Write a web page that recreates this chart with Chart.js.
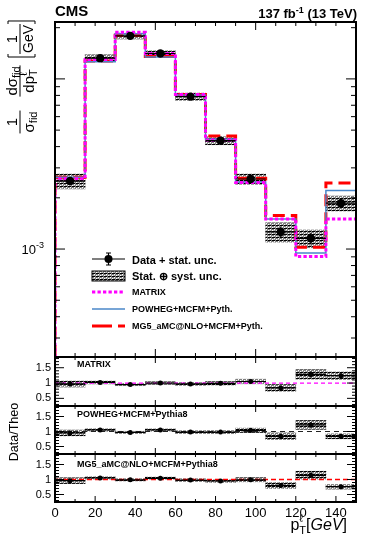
<!DOCTYPE html>
<html>
<head>
<meta charset="utf-8">
<script src="https://cdn.jsdelivr.net/npm/chart.js@4.4.1/dist/chart.umd.min.js"></script>
<style>
html,body{margin:0;padding:0;background:#ffffff;overflow:hidden;}
canvas{display:block;}
</style>
</head>
<body>
<canvas id="chart" width="374" height="542"></canvas>
<script>
// ---------------- data ----------------
const binEdges   = [0, 15, 30, 45, 60, 75, 90, 105, 120, 135, 150];
const binCenters = [7.5, 22.5, 37.5, 52.5, 67.5, 82.5, 97.5, 112.5, 127.5, 142.5];
const dataValues = [2.51e-3, 1.324e-2, 1.79e-2, 1.41e-2, 7.87e-3, 4.34e-3, 2.58e-3, 1.26e-3, 1.156e-3, 1.86e-3];
const statUnc    = [0.04, 0.02, 0.015, 0.02, 0.025, 0.03, 0.04, 0.07, 0.08, 0.06];   // relative
const totUnc     = [0.10, 0.045, 0.04, 0.04, 0.05, 0.055, 0.07, 0.13, 0.12, 0.10];   // relative stat (+) syst
const matrixValues = [2.59e-3, 1.30e-2, 1.88e-2, 1.41e-2, 8.11e-3, 4.38e-3, 2.46e-3, 1.50e-3, 9.03e-4, 1.50e-3];
const powhegValues = [2.64e-3, 1.26e-2, 1.845e-2, 1.343e-2, 8.03e-3, 4.43e-3, 2.48e-3, 1.50e-3, 9.48e-4, 2.21e-3];
const mg5Values    = [2.64e-3, 1.273e-2, 1.808e-2, 1.356e-2, 8.11e-3, 4.62e-3, 2.606e-3, 1.575e-3, 1.023e-3, 2.447e-3];
const ratioMatrix = [0.97, 1.02, 0.95, 1.00, 0.97, 0.99, 1.05, 0.84, 1.28, 1.24];
const ratioPowheg = [0.95, 1.05, 0.97, 1.05, 0.98, 0.98, 1.04, 0.84, 1.22, 0.84];
const ratioMg5    = [0.96, 1.05, 0.99, 1.04, 0.98, 0.95, 0.99, 0.80, 1.14, 0.76];
const xTickLabels = [0, 20, 40, 60, 80, 100, 120, 140];
const ratioTickLabels = [0.5, 1, 1.5];
const mainTickLabels = [1e-3];
const xRange = [0, 150];
const yRange = [2.32e-4, 2.16e-2];
const ratioRange = [0.25, 1.85];
const unity = 1;

// ---------------- helpers ----------------
const FONT = '"Liberation Sans", Arial, Helvetica, sans-serif';
const F = (size, style) => `${style || ''} ${size}px ${FONT}`;
const canvas = document.getElementById('chart');
const mainCtx = canvas.getContext('2d');

function makeHatch() {
  const t = document.createElement('canvas');
  t.width = 4; t.height = 3;
  const g = t.getContext('2d');
  g.fillStyle = '#ffffff'; g.fillRect(0, 0, 4, 3);
  g.fillStyle = '#000000'; g.fillRect(0, 0, 3, 1);
  g.fillStyle = '#808080'; g.fillRect(0, 1, 2, 1); g.fillRect(3, 0, 1, 3);
  g.fillStyle = '#b0b0b0'; g.fillRect(1, 2, 2, 1);
  return mainCtx.createPattern(t, 'repeat');
}
const hatch = makeHatch();

function histPoints(vals) {
  const pts = [{x: binEdges[0], y: yRange[0]}];
  vals.forEach((v, i) => pts.push({x: binEdges[i], y: v}));
  pts.push({x: binEdges[binEdges.length - 1], y: vals[vals.length - 1]});
  return pts;
}
function pointData(vals) { return binCenters.map((x, i) => ({x, y: vals[i]})); }
function bandData(vals, unc) {
  return binCenters.map((x, i) => ({x, y: [vals[i] * (1 - unc[i]), vals[i] * (1 + unc[i])]}));
}
function unityData() { return [{x: xRange[0], y: unity}, {x: xRange[1], y: unity}]; }

function bandDS(axis, vals) {
  return {type: 'bar', yAxisID: axis, data: bandData(vals, totUnc), backgroundColor: hatch,
          borderWidth: 0, grouped: false, barPercentage: 1, categoryPercentage: 1, order: 10};
}
function pointsDS(axis, vals, r) {
  return {type: 'line', yAxisID: axis, data: pointData(vals), showLine: false, pointRadius: r,
          pointBackgroundColor: '#000', pointBorderColor: '#000', pointBorderWidth: 0, order: 0,
          statUnc: statUnc};
}
function histDS(vals, color, width, dash, order) {
  return {type: 'line', yAxisID: 'y', data: histPoints(vals), stepped: 'before', borderColor: color,
          borderWidth: width, borderDash: dash, pointRadius: 0, fill: false, order: order,
          borderCapStyle: 'butt', borderJoinStyle: 'miter'};
}
function unityDS(axis, color, width, dash) {
  return {type: 'line', yAxisID: axis, data: unityData(), borderColor: color, borderWidth: width,
          borderDash: dash, pointRadius: 0, fill: false, order: 5};
}

// ---------------- plugins ----------------
const errorBars = {
  id: 'errorBars',
  afterDatasetsDraw(chart) {
    const ctx = chart.ctx, xs = chart.scales.x;
    chart.data.datasets.forEach(ds => {
      if (!ds.statUnc) return;
      const ys = chart.scales[ds.yAxisID];
      ctx.save();
      ctx.strokeStyle = '#000'; ctx.lineWidth = 1.2;
      ds.data.forEach((p, i) => {
        const y = ys.getPixelForValue(p.y);
        const xc = xs.getPixelForValue(p.x);
        ctx.beginPath();
        ctx.moveTo(xs.getPixelForValue(binEdges[i]), y);
        ctx.lineTo(xs.getPixelForValue(binEdges[i + 1]), y);
        ctx.moveTo(xc, ys.getPixelForValue(p.y * (1 - ds.statUnc[i])));
        ctx.lineTo(xc, ys.getPixelForValue(p.y * (1 + ds.statUnc[i])));
        ctx.stroke();
      });
      ctx.restore();
    });
  }
};

const panelDefs = [
  {id: 'y',  log: true, xMajor: 50, xMin: 4, xMaj: 8, yMin: 5, yMaj: 10},
  {id: 'r1', xMajor: 50, xMin: 3, xMaj: 6, yMin: 4, yMaj: 9},
  {id: 'r2', xMajor: 50, xMin: 3, xMaj: 6, yMin: 4, yMaj: 9},
  {id: 'r3', xMajor: 20, xMin: 3, xMaj: 6, yMin: 4, yMaj: 9}
];

function runsWidth(ctx, runs) {
  let w = 0;
  runs.forEach(r => {
    ctx.font = r.font;
    if (r.sub !== undefined) w += Math.max(ctx.measureText(r.sub).width, ctx.measureText(r.sup).width);
    else w += ctx.measureText(r.t).width;
    w += (r.gap || 0);
  });
  return w;
}
function drawRuns(ctx, x, y, runs) {
  runs.forEach(r => {
    ctx.font = r.font;
    if (r.sub !== undefined) {
      ctx.fillText(r.sub, x, y + (r.subDy || 3));
      ctx.fillText(r.sup, x, y + (r.supDy || -6));
      x += Math.max(ctx.measureText(r.sub).width, ctx.measureText(r.sup).width);
    } else {
      ctx.fillText(r.t, x, y + (r.dy || 0));
      x += ctx.measureText(r.t).width;
    }
    x += (r.gap || 0);
  });
  return x;
}
function fraction(ctx, cu, num, den, nb, db) {
  const wn = runsWidth(ctx, num), wd = runsWidth(ctx, den), w = Math.max(wn, wd);
  drawRuns(ctx, cu - wn / 2, nb, num);
  drawRuns(ctx, cu - wd / 2, db, den);
  ctx.beginPath(); ctx.lineWidth = 1;
  ctx.moveTo(cu - w / 2 - 1, 0); ctx.lineTo(cu + w / 2 + 1, 0); ctx.stroke();
  return w;
}

const decorations = {
  id: 'decorations',
  afterDraw(chart) {
    const ctx = chart.ctx, xs = chart.scales.x, ca = chart.chartArea;
    ctx.save();
    ctx.strokeStyle = '#000'; ctx.fillStyle = '#000';
    // ---- frames and inward ticks ----
    panelDefs.forEach(p => {
      const s = chart.scales[p.id];
      const top = s.top, bot = s.bottom, L = ca.left, R = ca.right;
      ctx.lineWidth = 1;
      ctx.beginPath();
      for (let v = xRange[0] + 10; v < xRange[1]; v += 10) {
        const x = xs.getPixelForValue(v);
        const len = (v % p.xMajor === 0) ? p.xMaj : p.xMin;
        ctx.moveTo(x, top); ctx.lineTo(x, top + len);
        ctx.moveTo(x, bot); ctx.lineTo(x, bot - len);
      }
      if (p.log) {
        for (let e = -4; e <= -1; e++) {
          for (let m = 1; m <= 9; m++) {
            const v = m * Math.pow(10, e);
            if (v <= yRange[0] || v >= yRange[1]) continue;
            const y = s.getPixelForValue(v);
            const len = m === 1 ? p.yMaj : p.yMin;
            ctx.moveTo(L, y); ctx.lineTo(L + len, y);
            ctx.moveTo(R, y); ctx.lineTo(R - len, y);
          }
        }
      } else {
        for (let k = 3; k <= 18; k++) {
          const v = k / 10;
          const y = s.getPixelForValue(v);
          const len = (k % 5 === 0) ? p.yMaj : p.yMin;
          ctx.moveTo(L, y); ctx.lineTo(L + len, y);
          ctx.moveTo(R, y); ctx.lineTo(R - len, y);
        }
      }
      ctx.stroke();
      ctx.lineWidth = 2;
      ctx.strokeRect(L, top, R - L, bot - top);
    });

    // ---- main y tick label 10^-3 ----
    const ys = chart.scales.y;
    mainTickLabels.forEach(v => {
      const y = ys.getPixelForValue(v);
      const exp = String(Math.round(Math.log10(v)));
      ctx.textAlign = 'right'; ctx.textBaseline = 'alphabetic';
      ctx.font = F(9);
      const we = ctx.measureText(exp).width;
      ctx.fillText(exp, 44, y - 1);
      ctx.font = F(13);
      ctx.fillText('10', 44 - we, y + 4.5);
    });

    ctx.textAlign = 'left'; ctx.textBaseline = 'alphabetic';
    // ---- header ----
    ctx.font = F(15, 'bold');
    ctx.fillText('CMS', 55, 16);
    const lumi = [{t: '137 fb', font: F(13, 'bold')}, {t: '-1', font: F(9, 'bold'), dy: -5},
                  {t: ' (13 TeV)', font: F(13, 'bold')}];
    drawRuns(ctx, 357 - runsWidth(ctx, lumi), 18, lumi);

    // ---- main y-axis title (rotated) ----
    ctx.save();
    ctx.translate(20, 145); ctx.rotate(-Math.PI / 2);
    ctx.lineWidth = 1;
    fraction(ctx, 23, [{t: '1', font: F(15)}],
             [{t: 'σ', font: F(15)}, {t: 'fid', font: F(11), dy: 3}], -3, 14);
    fraction(ctx, 64, [{t: 'dσ', font: F(15)}, {t: 'fid', font: F(11), dy: 3}],
             [{t: 'dp', font: F(15)}, {sub: 'T', sup: 'ℓ', font: F(11), subDy: 3, supDy: -7}], -3, 14);
    ctx.font = F(14);
    const wg = ctx.measureText('GeV').width;
    const bc = 106, bl = bc - wg / 2 - 4, br = bc + wg / 2 + 4;
    fraction(ctx, bc, [{t: '1', font: F(14)}], [{t: 'GeV', font: F(14)}], -3, 13);
    ctx.beginPath(); ctx.lineWidth = 1;
    ctx.moveTo(bl + 3, -12); ctx.lineTo(bl, -12); ctx.lineTo(bl, 15); ctx.lineTo(bl + 3, 15);
    ctx.moveTo(br - 3, -12); ctx.lineTo(br, -12); ctx.lineTo(br, 15); ctx.lineTo(br - 3, 15);
    ctx.stroke();
    ctx.restore();

    // ---- ratio y-axis title ----
    ctx.save();
    ctx.translate(15, 432); ctx.rotate(-Math.PI / 2);
    ctx.textAlign = 'center'; ctx.textBaseline = 'middle';
    ctx.font = F(12.5);
    ctx.fillText('Data/Theo', 0, 0);
    ctx.restore();

    // ---- x-axis title ----
    const xt = [{t: 'p', font: F(16)}, {sub: 'T', sup: 'ℓ', font: F(11), subDy: 4, supDy: -8},
                {t: '[', font: F(16)}, {t: 'GeV', font: F(16, 'italic')}, {t: ']', font: F(16)}];
    drawRuns(ctx, 347 - runsWidth(ctx, xt), 530, xt);

    // ---- ratio panel labels ----
    ctx.font = F(9, 'bold');
    ctx.fillText('MATRIX', 77, chart.scales.r1.top + 10);
    ctx.fillText('POWHEG+MCFM+Pythia8', 77, chart.scales.r2.top + 11);
    ctx.fillText('MG5_aMC@NLO+MCFM+Pythia8', 77, chart.scales.r3.top + 13);

    // ---- legend ----
    const lx0 = 92, lx1 = 125, tx = 132;
    ctx.lineWidth = 1.2; ctx.setLineDash([]);
    ctx.beginPath();
    ctx.moveTo(lx0, 259); ctx.lineTo(lx1, 259);
    ctx.moveTo(108.5, 253); ctx.lineTo(108.5, 265);
    ctx.moveTo(106, 253); ctx.lineTo(111, 253);
    ctx.moveTo(106, 265); ctx.lineTo(111, 265);
    ctx.stroke();
    ctx.beginPath(); ctx.arc(108.5, 259, 4, 0, Math.PI * 2); ctx.fill();
    ctx.font = F(11, 'bold');
    ctx.fillText('Data + stat. unc.', tx, 263.5);
    ctx.fillStyle = hatch; ctx.fillRect(lx0, 271, lx1 - lx0, 10);
    ctx.fillStyle = '#000'; ctx.lineWidth = 1; ctx.strokeRect(lx0, 271, lx1 - lx0, 10);
    ctx.fillText('Stat. \u2295 syst. unc.', tx, 279.5);
    ctx.font = F(9, 'bold');
    ctx.strokeStyle = '#ff00ff'; ctx.lineWidth = 3; ctx.setLineDash([3.3, 2.2]);
    ctx.beginPath(); ctx.moveTo(lx0, 292); ctx.lineTo(lx1, 292); ctx.stroke();
    ctx.fillText('MATRIX', tx, 295);
    ctx.strokeStyle = '#4a87c8'; ctx.lineWidth = 1.5; ctx.setLineDash([]);
    ctx.beginPath(); ctx.moveTo(lx0, 309); ctx.lineTo(lx1, 309); ctx.stroke();
    ctx.fillText('POWHEG+MCFM+Pyth.', tx, 312);
    ctx.strokeStyle = '#ff0000'; ctx.lineWidth = 3; ctx.setLineDash([20, 6]);
    ctx.beginPath(); ctx.moveTo(lx0, 326); ctx.lineTo(lx1, 326); ctx.stroke();
    ctx.setLineDash([]);
    ctx.fillText('MG5_aMC@NLO+MCFM+Pyth.', tx, 329);
    ctx.restore();
  }
};

// ---------------- chart ----------------
const ratioAxis = (weight, stackWeight) => ({
  type: 'linear', position: 'left', stack: 'panels', stackWeight: stackWeight, weight: weight,
  min: ratioRange[0], max: ratioRange[1],
  grid: {display: false, drawTicks: false}, border: {display: false},
  ticks: {font: {family: FONT, size: 11}, color: '#000', padding: 4, autoSkip: false,
          callback: v => String(v)},
  afterBuildTicks: s => { s.ticks = ratioTickLabels.map(v => ({value: v})); },
  afterFit: s => { s.width = 55; }
});

new Chart(mainCtx, {
  type: 'line',
  data: {
    datasets: [
      pointsDS('y', dataValues, 4.2),
      histDS(matrixValues, '#ff00ff', 3, [3.3, 2.2], 1),
      histDS(powhegValues, '#4a87c8', 1.5, [], 2),
      histDS(mg5Values, '#ff0000', 3, [12, 6], 3),
      bandDS('y', dataValues),

      pointsDS('r1', ratioMatrix, 2.5),
      unityDS('r1', '#ff00ff', 1.2, [4, 3]),
      bandDS('r1', ratioMatrix),

      pointsDS('r2', ratioPowheg, 2.5),
      unityDS('r2', '#222222', 1.2, [5, 4]),
      bandDS('r2', ratioPowheg),

      pointsDS('r3', ratioMg5, 2.5),
      unityDS('r3', '#ff0000', 1.3, [5, 3]),
      bandDS('r3', ratioMg5)
    ]
  },
  options: {
    responsive: false,
    devicePixelRatio: 1,
    animation: false,
    events: [],
    layout: {padding: {top: 22, left: 0, right: 18, bottom: 0}},
    plugins: {legend: {display: false}, tooltip: {enabled: false}},
    scales: {
      x: {
        type: 'linear', position: 'bottom', min: xRange[0], max: xRange[1], offset: false,
        grid: {display: false, drawTicks: false}, border: {display: false},
        ticks: {font: {family: FONT, size: 13}, color: '#000', padding: 4, maxRotation: 0,
                autoSkip: false, includeBounds: false},
        afterBuildTicks: s => { s.ticks = xTickLabels.map(v => ({value: v})); },
        afterFit: s => { s.height = 40; }
      },
      y: {
        type: 'logarithmic', position: 'left', stack: 'panels', stackWeight: 335, weight: 4,
        min: yRange[0], max: yRange[1],
        grid: {display: false, drawTicks: false}, border: {display: false},
        ticks: {display: false},
        afterFit: s => { s.width = 55; }
      },
      r1: ratioAxis(3, 49),
      r2: ratioAxis(2, 48),
      r3: ratioAxis(1, 48)
    }
  },
  plugins: [errorBars, decorations]
});
</script>
</body>
</html>
